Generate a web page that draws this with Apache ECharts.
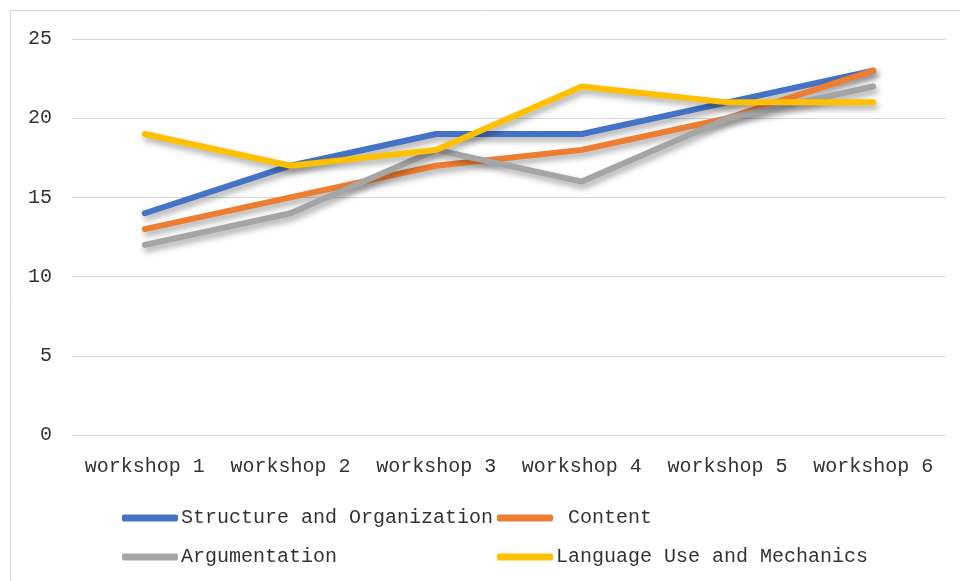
<!DOCTYPE html>
<html lang="en">
<head>
    <meta charset="utf-8">
    <title>Workshop scores</title>
    <script src="https://cdn.jsdelivr.net/npm/echarts@6/dist/echarts.min.js"></script>
    <style type="text/css">
        html, body {
            width: 100%;
            height: 100%;
            margin: 0px;
            padding: 0px;
            background: #fff;
        }
        #main {
            width: 960px;
            height: 581px;
        }
    </style>
</head>
<body>
<div id="main"></div>
<script>
    // data
    var workshops = ['workshop 1', 'workshop 2', 'workshop 3', 'workshop 4', 'workshop 5', 'workshop 6'];
    var structureOrg = [14, 17, 19, 19, 21, 23];
    var content = [13, 15, 17, 18, 20, 23];
    var argumentation = [12, 14, 18, 16, 20, 22];
    var languageUse = [19, 17, 18, 22, 21, 21];
    var yTicks = [0, 5, 10, 15, 20, 25];

    var FONT = '"Liberation Mono", "DejaVu Sans Mono", monospace';
    var TEXT = '#333333';

    function lineSeries(name, values, color) {
        return {
            name: name,
            type: 'line',
            data: values,
            symbol: 'none',
            lineStyle: {
                width: 6,
                color: color,
                cap: 'round',
                join: 'round',
                shadowColor: 'rgba(0,0,0,0.35)',
                shadowBlur: 6,
                shadowOffsetX: 2,
                shadowOffsetY: 4
            },
            itemStyle: {color: color}
        };
    }

    var legendCommon = {
        orient: 'vertical',
        icon: 'roundRect',
        itemWidth: 56,
        itemHeight: 7,
        itemGap: 19,
        padding: 0,
        textStyle: {fontFamily: FONT, fontSize: 20, color: TEXT, padding: [0, 0, 0, -2]}
    };

    var myChart = echarts.init(document.getElementById('main'));
    myChart.setOption({
        animation: false,
        graphic: [{
            type: 'rect',
            shape: {x: 10.5, y: 10.5, width: 980, height: 620},
            style: {fill: 'none', stroke: '#d9d9d9', lineWidth: 1}
        }],
        grid: {left: 72, right: 14, top: 39, bottom: 146},
        legend: [
            Object.assign({}, legendCommon, {
                left: 122, top: 508,
                data: ['Structure and Organization', 'Argumentation']
            }),
            Object.assign({}, legendCommon, {
                left: 497, top: 508,
                data: ['Content', 'Language Use and Mechanics'],
                formatter: function (name) {
                    return name === 'Content' ? ' ' + name : name;
                }
            })
        ],
        xAxis: {
            type: 'category',
            data: workshops,
            boundaryGap: true,
            axisLine: {show: false},
            axisTick: {show: false},
            axisLabel: {interval: 0, hideOverlap: false, fontFamily: FONT, fontSize: 20, color: TEXT, margin: 22}
        },
        yAxis: {
            type: 'value',
            min: yTicks[0],
            max: yTicks[yTicks.length - 1],
            interval: 5,
            axisLine: {show: false},
            axisTick: {show: false},
            axisLabel: {fontFamily: FONT, fontSize: 20, color: TEXT, margin: 20},
            splitLine: {lineStyle: {color: '#d9d9d9', width: 1}}
        },
        series: [
            lineSeries('Structure and Organization', structureOrg, '#4472C4'),
            lineSeries('Content', content, '#ED7D31'),
            lineSeries('Argumentation', argumentation, '#A5A5A5'),
            lineSeries('Language Use and Mechanics', languageUse, '#FFC000')
        ]
    });
</script>
</body>
</html>
